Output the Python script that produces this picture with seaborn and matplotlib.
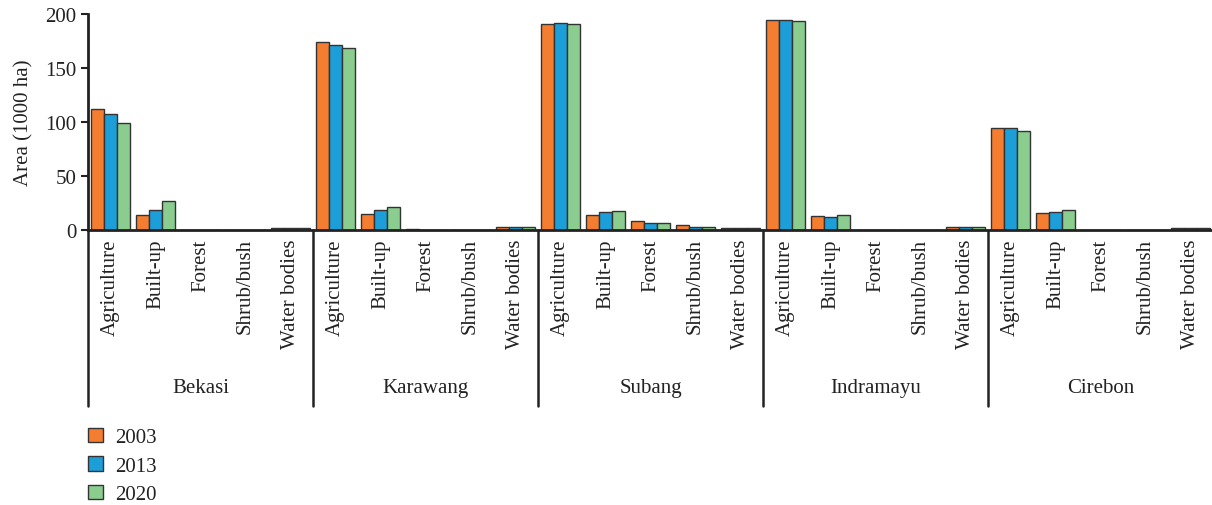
import numpy as np
import pandas as pd
import matplotlib
matplotlib.use("Agg")
import matplotlib.pyplot as plt
import seaborn as sns
from matplotlib.transforms import blended_transform_factory

# regencies and land cover classes (x axis is regency x land cover)
regencies = ["Bekasi", "Karawang", "Subang", "Indramayu", "Cirebon"]
land_covers = ["Agriculture", "Built-up", "Forest", "Shrub/bush", "Water bodies"]
years = ["2003", "2013", "2020"]

# area in 1000 ha, ordered regency by regency, land cover within each
area_2003 = [112.0, 14.0, 0.3, 0.2, 1.5,
             174.0, 15.0, 0.5, 0.3, 2.6,
             191.0, 14.2, 8.3, 4.3, 1.5,
             194.0, 12.7, 0.2, 0.2, 2.4,
             94.5, 16.2, 0.3, 0.2, 1.4]
area_2013 = [107.0, 18.8, 0.2, 0.2, 1.5,
             171.0, 18.2, 0.4, 0.3, 2.7,
             191.5, 16.3, 6.5, 2.8, 1.5,
             194.0, 12.0, 0.2, 0.2, 2.5,
             94.0, 16.6, 0.3, 0.2, 1.5]
area_2020 = [99.5, 26.5, 0.2, 0.2, 1.5,
             168.5, 21.0, 0.3, 0.3, 2.8,
             191.0, 17.3, 6.5, 2.8, 1.5,
             193.5, 13.5, 0.2, 0.2, 2.5,
             91.5, 18.5, 0.3, 0.2, 1.5]

colors = ["#F47D30", "#1C9FD9", "#8ACD8E"]

sns.set_style("ticks")
plt.rcParams["font.family"] = ["Liberation Serif", "DejaVu Serif"]
fs = 15

slots = [f"{r}|{c}" for r in regencies for c in land_covers]
df = pd.DataFrame({
    "slot": slots * 3,
    "area": area_2003 + area_2013 + area_2020,
    "year": [y for y in years for _ in slots],
})

fig = plt.figure(figsize=(12.12, 5.06), dpi=100)
# the right end of the axis runs to the edge of the picture
ax = fig.add_axes([88 / 1212, 1 - 231 / 506, 1125 / 1212, 216 / 506])

sns.barplot(data=df, x="slot", y="area", hue="year", order=slots,
            hue_order=years, palette=colors, saturation=1, width=0.87,
            edgecolor="#333333", linewidth=1, ax=ax)

ax.set_xlim(-0.5, len(slots) - 0.5)
ax.set_ylim(0, 200)
ax.set_yticks([0, 50, 100, 150, 200])
ax.set_xticks(range(len(slots)))
ax.set_xticklabels(land_covers * len(regencies), rotation=90, fontsize=fs,
                   color="#222222")
ax.tick_params(axis="x", length=0, pad=6)
ax.tick_params(axis="y", labelsize=fs, length=5, width=1.5, colors="#222222")
ax.set_xlabel("")
ax.set_ylabel("Area (1000 ha)", fontsize=fs, labelpad=8, color="#222222")

sns.despine(ax=ax)
for side in ["left", "bottom"]:
    ax.spines[side].set_linewidth(2)
    ax.spines[side].set_color("#222222")

# group separators and regency labels below the axis
trans = blended_transform_factory(ax.transData, ax.transAxes)
for i in range(len(regencies) + 1):
    xb = i * len(land_covers) - 0.5
    ax.plot([xb, xb], [0, -0.815], transform=trans, color="#222222",
            lw=1.8, clip_on=False)
for i, r in enumerate(regencies):
    ax.text(i * len(land_covers) + 2, -0.727, r, transform=trans,
            ha="center", va="center", fontsize=fs, color="#222222")

handles, labels = ax.get_legend_handles_labels()
ax.legend(handles, labels, loc="upper left", bbox_to_anchor=(0.0, -0.915),
          frameon=False, fontsize=fs, borderaxespad=0, borderpad=0,
          handlelength=0.72, handleheight=0.72, handletextpad=0.6,
          labelspacing=0.42, labelcolor="#222222")

fig.savefig("out.png", dpi=100)
